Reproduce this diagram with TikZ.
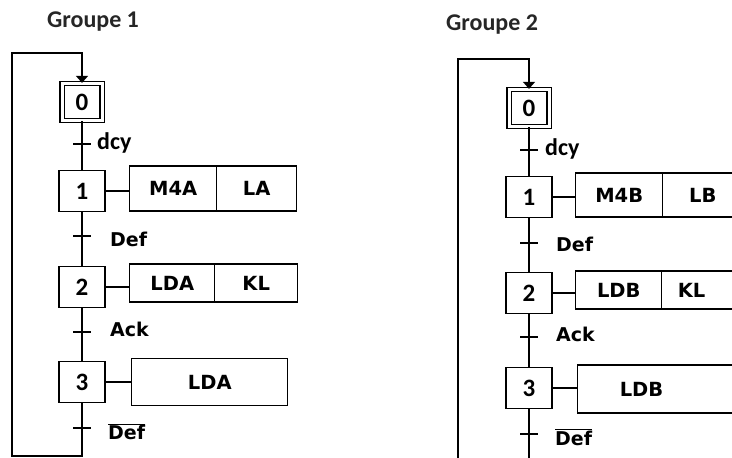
\documentclass[tikz,border=0pt]{standalone}
\usepackage{fontspec}
\setmainfont{DejaVu Sans}
\newfontfamily\calib{Carlito}
\usetikzlibrary{positioning, arrows.meta, calc}
\tikzset{
  link/.style     = {line width=1.5pt},
  stepbox/.style  = {rectangle, draw, line width=1.5pt, minimum width=46pt,
                     minimum height=41pt, inner sep=0pt,
                     font=\calib\bfseries\fontsize{25}{25}\selectfont},
  initbox/.style  = {stepbox, double, double distance=3pt, line width=1.3pt,
                     minimum width=40pt, minimum height=37pt},
  tickmark/.style = {rectangle, fill, minimum width=18pt, minimum height=1.8pt,
                     inner sep=0pt, outer sep=0pt},
  actbox/.style   = {rectangle, draw, line width=1.4pt, inner sep=0pt, outer sep=0pt,
                     font=\bfseries\fontsize{19.5}{19.5}\selectfont},
  translab/.style = {inner sep=0pt, font=\bfseries\fontsize{19}{19}\selectfont},
  calilab/.style  = {inner sep=0pt, font=\calib\bfseries\fontsize{24}{24}\selectfont},
  grouplab/.style = {inner sep=0pt, text=black!85, font=\calib\bfseries\fontsize{24}{24}\selectfont},
}

\begin{document}
\begin{tikzpicture}[x=1pt, y=-1pt]
\useasboundingbox (0,0) rectangle (732,458);
\clip (0,0) rectangle (732,458);

% Group titles
\node (title1) [grouplab] at (93,22) {Groupe 1};
\node (title2) [grouplab] at (492,25) {Groupe 2};

% Groupe 1: steps and transitions
\node (g1s0) [initbox] at (82,102) {0};
\node (g1t0) [tickmark] at (82,144) {};
\node (g1s1) [stepbox] at (82,191) {1};
\node (g1t1) [tickmark] at (82,236) {};
\node (g1s2) [stepbox] at (82,287) {2};
\node (g1t2) [tickmark] at (82,332) {};
\node (g1s3) [stepbox] at (82,382) {3};
\node (g1t3) [tickmark] at (82,428) {};

\node (g1r0) [calilab, right=6pt of g1t0, yshift=1pt] {dcy};
\node (g1r1) [translab, right=19pt of g1t1, yshift=-3.5pt] {Def};
\node (g1r2) [translab, right=19pt of g1t2, yshift=3pt] {Ack};
\node (g1r3) [translab, right=17pt of g1t3, yshift=-3.5pt] {$\overline{\hbox{Def}}$};

\draw [link] (g1s0) -- (g1t0) -- (g1s1) -- (g1t1) -- (g1s2) -- (g1t2) -- (g1s3) -- (g1t3);
\coordinate (g1b) at (12,456);
\coordinate (g1top) at (12,53);
\draw [link, -{Triangle[width=12pt, length=7pt]}] (g1t3) |- (g1b) -- (g1top) -| (g1s0);

% Groupe 1: actions
\node (g1a1l) [actbox, minimum width=87pt, minimum height=45pt, right=24pt of g1s1, yshift=2.5pt] {M4A};
\node (g1a1r) [actbox, minimum width=80pt, minimum height=45pt, right=0pt of g1a1l] {LA};
\node (g1a2l) [actbox, minimum width=85pt, minimum height=38pt, right=24pt of g1s2, yshift=4pt] {LDA};
\node (g1a2r) [actbox, minimum width=83pt, minimum height=38pt, right=0pt of g1a2l] {KL};
\node (g1a3) [actbox, minimum width=156pt, minimum height=47pt, right=26pt of g1s3] {LDA};
\draw [link] (g1s1) -- (g1s1 -| g1a1l.west);
\draw [link] (g1s2) -- (g1s2 -| g1a2l.west);
\draw [link] (g1s3) -- (g1s3 -| g1a3.west);

% Groupe 2: steps and transitions
\node (g2s0) [initbox] at (529,108) {0};
\node (g2t0) [tickmark] at (529,150) {};
\node (g2s1) [stepbox] at (529,197) {1};
\node (g2t1) [tickmark] at (529,243) {};
\node (g2s2) [stepbox] at (529,293) {2};
\node (g2t2) [tickmark] at (529,337) {};
\node (g2s3) [stepbox] at (529,388) {3};
\node (g2t3) [tickmark] at (529,434) {};

\node (g2r0) [calilab, right=7pt of g2t0, yshift=1pt] {dcy};
\node (g2r1) [translab, right=18pt of g2t1, yshift=-1.5pt] {Def};
\node (g2r2) [translab, right=18pt of g2t2, yshift=2.5pt] {Ack};
\node (g2r3) [translab, right=17pt of g2t3, yshift=-3pt] {$\overline{\hbox{Def}}$};

\draw [link] (g2s0) -- (g2t0) -- (g2s1) -- (g2t1) -- (g2s2) -- (g2t2) -- (g2s3) -- (g2t3);
\coordinate (g2b) at (458,475);
\coordinate (g2top) at (458,59);
\draw [link, -{Triangle[width=12pt, length=7pt]}] (g2t3) |- (g2b) -- (g2top) -| (g2s0);

% Groupe 2: actions (cut by the right edge)
\node (g2a1l) [actbox, minimum width=87pt, minimum height=44pt, right=23pt of g2s1, yshift=2pt] {M4B};
\node (g2a1r) [actbox, minimum width=80pt, minimum height=44pt, right=0pt of g2a1l] {LB};
\node (g2a2l) [actbox, minimum width=86pt, minimum height=38pt, right=23pt of g2s2, yshift=3pt] {LDB};
\node (g2a2r) [actbox, minimum height=38pt, inner xsep=16pt, text width=60pt, align=left, right=0pt of g2a2l] {KL};
\node (g2a3) [actbox, minimum height=48pt, inner xsep=42pt, text width=100pt, align=left, right=25pt of g2s3, yshift=-1pt] {LDB};
\draw [link] (g2s1) -- (g2s1 -| g2a1l.west);
\draw [link] (g2s2) -- (g2s2 -| g2a2l.west);
\draw [link] (g2s3) -- (g2s3 -| g2a3.west);

\end{tikzpicture}
\end{document}
